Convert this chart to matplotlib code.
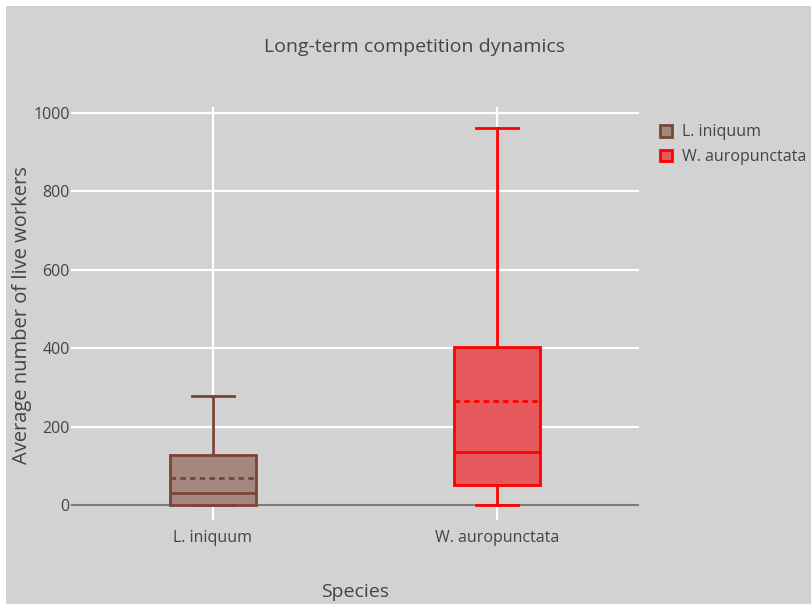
import matplotlib.pyplot as plt
from matplotlib.patches import Rectangle, Patch

species = ['L. iniquum', 'W. auropunctata']
lower_fence = [0, 0]
q1 = [0, 51]
median = [31, 135]
mean = [69, 265]
q3 = [128, 403]
upper_fence = [278, 962]
line_colors = ['#7a4436', '#ff0000']
fill_colors = ['#a6877f', '#e5585b']
y_ticks = [0, 200, 400, 600, 800, 1000]

plt.rcParams['font.family'] = ['Open Sans', 'DejaVu Sans']

fig = plt.figure(figsize=(8.12, 6.04), dpi=100, facecolor='white')
fig.patches.append(Rectangle((6 / 812, 0), 806 / 812, 598 / 604, transform=fig.transFigure,
                             facecolor='#d2d2d2', edgecolor='none', zorder=-5))

ax = fig.add_axes([71 / 812, 84 / 604, 568 / 812, 413 / 604])
ax.set_facecolor('#d2d2d2')

stats = []
for i, name in enumerate(species):
    stats.append(dict(label=name, whislo=lower_fence[i], q1=q1[i], med=median[i],
                      mean=mean[i], q3=q3[i], whishi=upper_fence[i], fliers=[]))

for i, s in enumerate(stats):
    c = line_colors[i]
    bp = ax.bxp([s], positions=[i], widths=0.3, capwidths=0.15, patch_artist=True,
                showmeans=True, meanline=True, showfliers=False,
                boxprops=dict(facecolor=fill_colors[i], edgecolor=c, linewidth=2),
                medianprops=dict(color=c, linewidth=2),
                meanprops=dict(color=c, linewidth=2, linestyle=(0, (2, 1.5))),
                whiskerprops=dict(color=c, linewidth=2),
                capprops=dict(color=c, linewidth=2))
    for k in bp:
        for art in bp[k]:
            art.set_zorder(3)

ax.set_xlim(-0.5, 1.5)
ax.set_ylim(-38, 1015)
ax.set_xticks(range(len(species)))
ax.set_xticklabels(species)
ax.set_yticks(y_ticks)
ax.grid(True, color='white', linewidth=1.6, zorder=1)
ax.set_axisbelow(True)
ax.axhline(0, color='#7c7c7c', linewidth=1.6, zorder=2)
for sp in ax.spines.values():
    sp.set_visible(False)
ax.tick_params(length=0, labelsize=11.5, colors='#444444')
ax.tick_params(axis='y', pad=1)
ax.tick_params(axis='x', pad=7)

fig.text(0.51, 1 - 47 / 604, 'Long-term competition dynamics', ha='center', va='center',
         fontsize=14, color='#444444')
fig.text(355 / 812, 1 - 592 / 604, 'Species', ha='center', va='center', fontsize=14, color='#444444')
fig.text(22 / 812, 1 - 315 / 604, 'Average number of live workers', ha='center', va='center',
         rotation=90, fontsize=14.5, color='#444444')

handles = [Patch(facecolor=fill_colors[i], edgecolor=line_colors[i], linewidth=2, label=species[i])
           for i in range(len(species))]
leg = fig.legend(handles=handles, loc='upper left', bbox_to_anchor=(646 / 812, 1 - 110 / 604),
                 frameon=False, fontsize=11.5, handlelength=0.75, handleheight=0.75,
                 handletextpad=0.6, labelspacing=0.55, labelcolor='#444444')

fig.savefig('out.png', dpi=100, facecolor=fig.get_facecolor())
